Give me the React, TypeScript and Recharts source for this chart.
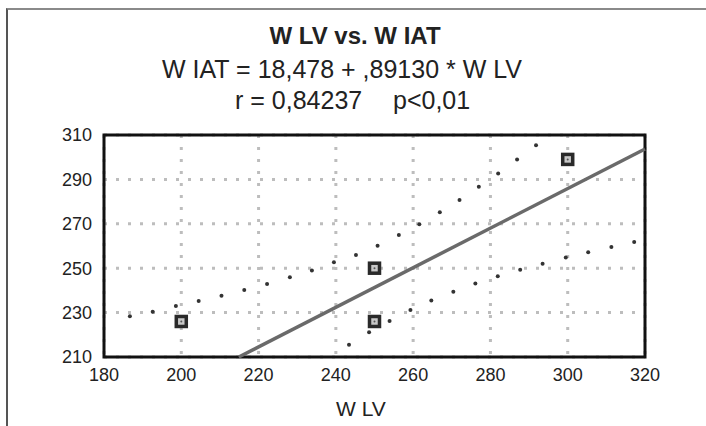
import React from "react"
import { ScatterChart, Scatter, XAxis, YAxis, CartesianGrid, ReferenceLine, ReferenceArea } from "recharts"

// observed points (W LV, W IAT)
const observed = [
  { x: 200, y: 226 },
  { x: 250, y: 250 },
  { x: 250, y: 226 },
  { x: 300, y: 299 },
]

// upper 95% confidence curve
const upperBand = [
  { x: 186.7, y: 228.4 }, { x: 192.6, y: 230.4 }, { x: 198.6, y: 233.0 }, { x: 204.5, y: 235.2 },
  { x: 210.4, y: 237.6 }, { x: 216.3, y: 240.2 }, { x: 222.2, y: 242.9 }, { x: 228.1, y: 245.9 },
  { x: 233.8, y: 249.0 }, { x: 239.5, y: 252.7 }, { x: 245.2, y: 256.0 }, { x: 250.8, y: 260.1 },
  { x: 256.3, y: 264.9 }, { x: 261.6, y: 269.8 }, { x: 266.9, y: 275.2 }, { x: 272.0, y: 280.7 },
  { x: 277.0, y: 286.7 }, { x: 282.0, y: 292.7 }, { x: 286.9, y: 299.0 }, { x: 291.8, y: 305.4 },
]

// lower 95% confidence curve
const lowerBand = [
  { x: 243.4, y: 215.5 }, { x: 248.6, y: 221.2 }, { x: 253.9, y: 226.2 }, { x: 259.3, y: 231.2 },
  { x: 264.7, y: 235.4 }, { x: 270.4, y: 239.4 }, { x: 276.1, y: 243.1 }, { x: 281.9, y: 246.4 },
  { x: 287.7, y: 249.3 }, { x: 293.5, y: 252.0 }, { x: 299.5, y: 254.8 }, { x: 305.3, y: 257.2 },
  { x: 311.3, y: 259.6 }, { x: 317.2, y: 261.8 },
]

const xTicks = [180, 200, 220, 240, 260, 280, 300, 320]
const yTicks = [210, 230, 250, 270, 290, 310]

const intercept = 18.478
const slope = 0.8913

const xMin = 180
const xMax = 320
const yMin = 210
const yMax = 310

// regression line clipped to the plot box
const fitStart = { x: (yMin - intercept) / slope, y: yMin }
const fitEnd = { x: xMax, y: intercept + slope * xMax }

const font = "'Liberation Sans', Arial, sans-serif"

const SquareMarker = (props: any) => {
  const { cx, cy } = props
  return (
    <g>
      <rect x={cx - 5} y={cy - 5} width={10} height={10} fill="#c8c8c8" stroke="#2a2a2a" strokeWidth={3.5} />
      <circle cx={cx} cy={cy} r={1} fill="#555" />
    </g>
  )
}

const BandDot = (props: any) => {
  const { cx, cy } = props
  return <circle cx={cx} cy={cy} r={2} fill="#333" />
}

const App = () => {
  return (
    <div style={{ position: "absolute", left: 0, top: 0, width: 706, height: 426, background: "#fff", fontFamily: font }}>
      <div
        style={{
          position: "absolute",
          left: 6,
          top: 8,
          width: 710,
          height: 430,
          borderTop: "2px solid #8a8a8a",
          borderLeft: "2px solid #555",
        }}
      />
      <div style={{ position: "absolute", left: 0, top: 0 }}>
        <ScatterChart width={706} height={426} margin={{ top: 135, right: 61, bottom: 39, left: 44 }}>
          <CartesianGrid stroke="#bdbdbd" strokeWidth={3} strokeDasharray="3 9" />
          <XAxis
            type="number"
            dataKey="x"
            domain={[xMin, xMax]}
            ticks={xTicks}
            height={30}
            tickLine={false}
            axisLine={false}
            tickSize={0}
            tickMargin={11}
            fontSize={18}
            fontFamily={font}
            tick={{ fill: "#222", fontSize: 18, fontFamily: font }}
          />
          <YAxis
            type="number"
            dataKey="y"
            domain={[yMin, yMax]}
            ticks={yTicks}
            width={60}
            tickLine={false}
            axisLine={false}
            tickSize={0}
            tickMargin={12}
            fontSize={18}
            fontFamily={font}
            tick={{ fill: "#222", fontSize: 18, fontFamily: font }}
          />
          <ReferenceLine
            segment={[fitStart, fitEnd]}
            stroke="#6a6a6a"
            strokeWidth={3.5}
          />
          <Scatter data={upperBand} shape={BandDot} isAnimationActive={false} />
          <Scatter data={lowerBand} shape={BandDot} isAnimationActive={false} />
          <Scatter data={observed} shape={SquareMarker} isAnimationActive={false} />
          <ReferenceArea
            x1={xMin}
            x2={xMax}
            y1={yMin}
            y2={yMax}
            fill="none"
            fillOpacity={0}
            stroke="#111"
            strokeWidth={3}
            ifOverflow="visible"
          />
        </ScatterChart>
      </div>
      <svg width={706} height={426} style={{ position: "absolute", left: 0, top: 0, pointerEvents: "none" }}>
        <text x={355} y={44} textAnchor="middle" fontFamily={font} fontSize={24} fontWeight="bold" fill="#222">
          W LV vs. W IAT
        </text>
        <text x={342} y={78} textAnchor="middle" fontFamily={font} fontSize={25} fill="#222">
          W IAT = 18,478 + ,89130 * W LV
        </text>
        <text x={235} y={109} fontFamily={font} fontSize={25} fill="#222">
          r = 0,84237
        </text>
        <text x={393} y={109} fontFamily={font} fontSize={25} fill="#222">
          p&lt;0,01
        </text>
        <text x={361} y={416} textAnchor="middle" fontFamily={font} fontSize={21} fill="#222">
          W LV
        </text>
      </svg>
    </div>
  )
}

export default App
